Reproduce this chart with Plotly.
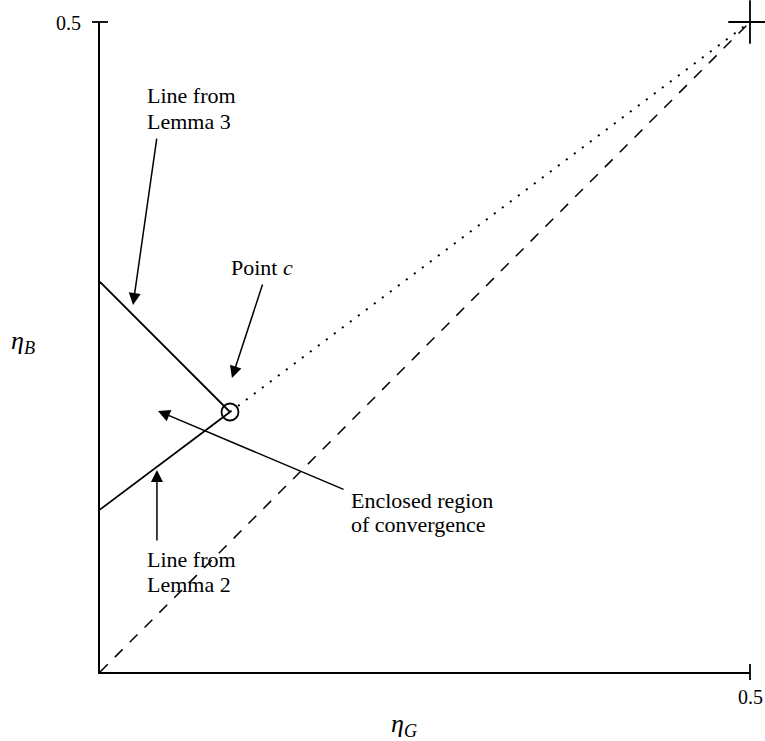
import plotly.graph_objects as go

# Data
diag_x = [0.0, 0.5]
diag_y = [0.0, 0.5]
point_c = (0.1, 0.2)
corner = (0.5, 0.5)
lemma3_x = [0.0, 0.1]
lemma3_y = [0.3, 0.2]
lemma2_x = [0.0, 0.1]
lemma2_y = [0.125, 0.2]
dotted_x = [0.1, 0.5]
dotted_y = [0.2, 0.5]
tick_vals = [0.5]
tick_text = ["0.5"]
x_range = [0.0, 0.5]
y_range = [0.0, 0.5]

FONT = "Liberation Serif, Times New Roman, serif"

fig = go.Figure()
fig.add_trace(go.Scatter(x=diag_x, y=diag_y, mode="lines",
                         line=dict(color="black", width=1.5, dash="11px,10px"),
                         cliponaxis=False, hoverinfo="skip"))
fig.add_trace(go.Scatter(x=dotted_x, y=dotted_y, mode="lines",
                         line=dict(color="black", width=2, dash="2px,8px"),
                         cliponaxis=False, hoverinfo="skip"))
fig.add_trace(go.Scatter(x=lemma3_x, y=lemma3_y, mode="lines",
                         line=dict(color="black", width=1.8),
                         cliponaxis=False, hoverinfo="skip"))
fig.add_trace(go.Scatter(x=lemma2_x, y=lemma2_y, mode="lines",
                         line=dict(color="black", width=1.8),
                         cliponaxis=False, hoverinfo="skip"))
fig.add_trace(go.Scatter(x=[point_c[0]], y=[point_c[1]], mode="markers",
                         marker=dict(symbol="circle-open", size=17, color="black",
                                     line=dict(color="black", width=1.8)),
                         cliponaxis=False, hoverinfo="skip"))
fig.add_trace(go.Scatter(x=[corner[0]], y=[corner[1]], mode="markers",
                         marker=dict(symbol="cross-thin-open", size=31, color="black",
                                     line=dict(color="black", width=1.8)),
                         cliponaxis=False, hoverinfo="skip"))

# tick marks crossing the axes and their labels (paper coords so they are not clipped)
shapes = []
annotations = []
for v, t in zip(tick_vals, tick_text):
    px = (v - x_range[0]) / (x_range[1] - x_range[0])
    py = (v - y_range[0]) / (y_range[1] - y_range[0])
    shapes.append(dict(type="line", xref="paper", yref="paper", ysizemode="pixel",
                       yanchor=0, y0=-8, y1=8, x0=px, x1=px,
                       line=dict(color="black", width=1.8)))
    shapes.append(dict(type="line", xref="paper", yref="paper", xsizemode="pixel",
                       xanchor=0, x0=-8, x1=8, y0=py, y1=py,
                       line=dict(color="black", width=1.8)))
    annotations.append(dict(x=px, y=0, xref="paper", yref="paper", yshift=-25,
                            text=t, showarrow=False, xanchor="center", yanchor="middle",
                            font=dict(family=FONT, size=20, color="black")))
    annotations.append(dict(x=0, y=py, xref="paper", yref="paper", xshift=-17,
                            yshift=-1, text=t, showarrow=False, xanchor="right",
                            yanchor="middle",
                            font=dict(family=FONT, size=20, color="black")))

# arrows: (head_x, head_y, tail_x, tail_y)
arrows = [
    (0.0254, 0.2823, 0.0438, 0.4115),
    (0.1015, 0.2262, 0.1254, 0.2992),
    (0.0438, 0.1554, 0.0438, 0.1000),
    (0.0446, 0.2008, 0.1885, 0.1400),
]
for hx, hy, tx, ty in arrows:
    annotations.append(dict(x=hx, y=hy, ax=tx, ay=ty, xref="x", yref="y",
                            axref="x", ayref="y", text="", showarrow=True,
                            arrowhead=2, arrowsize=1.6, arrowwidth=1.5,
                            arrowcolor="black"))

labels = [
    (0.0346, 0.4431, "Line from"),
    (0.0346, 0.4238, "Lemma 3"),
    (0.0992, 0.3115, "Point <i>c</i>"),
    (0.0346, 0.0862, "Line from"),
    (0.0346, 0.0673, "Lemma 2"),
    (0.1915, 0.1323, "Enclosed region"),
    (0.1915, 0.1131, "of convergence"),
]
for x, y, t in labels:
    annotations.append(dict(x=x, y=y, xref="x", yref="y", text=t,
                            showarrow=False, xanchor="left", yanchor="middle",
                            align="left", font=dict(family=FONT, size=22, color="black")))

# axis titles
annotations.append(dict(x=0, y=(672 - 342) / 650, xref="paper", yref="paper",
                        xshift=-77, text="<i>η</i><sub><i>B</i></sub>",
                        showarrow=False, xanchor="center", yanchor="middle",
                        font=dict(family=FONT, size=26, color="black")))
annotations.append(dict(x=(404 - 100) / 650, y=0, xref="paper", yref="paper", yshift=-53,
                        text="<i>η</i><sub><i>G</i></sub>", showarrow=False,
                        xanchor="center", yanchor="middle",
                        font=dict(family=FONT, size=26, color="black")))

fig.update_layout(
    width=765, height=741,
    margin=dict(l=100, r=15, t=22, b=69, autoexpand=False),
    paper_bgcolor="white", plot_bgcolor="white",
    showlegend=False,
    hovermode=False,
    xaxis=dict(range=x_range, showgrid=False, zeroline=False, showline=True,
               linecolor="black", linewidth=1.8, ticks="", tickvals=tick_vals,
               showticklabels=False, automargin=False),
    yaxis=dict(range=y_range, showgrid=False, zeroline=False, showline=True,
               linecolor="black", linewidth=1.8, ticks="", tickvals=tick_vals,
               showticklabels=False, automargin=False),
    shapes=shapes,
    annotations=annotations,
)

# remove the default 8px body margin so the figure fills the window exactly
fig.write_html("out.html",
               config={"displayModeBar": False},
               post_script="document.body.style.margin='0px';document.body.style.overflow='hidden';")
